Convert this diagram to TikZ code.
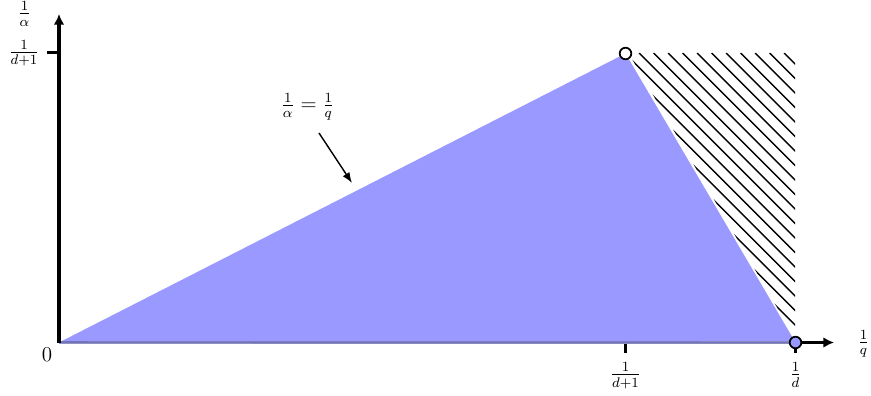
\documentclass[tikz,border=0pt]{standalone}
\usetikzlibrary{arrows.meta}
\definecolor{basecol}{RGB}{115,115,185}
\definecolor{baselight}{RGB}{150,150,200}
\begin{document}
\begin{tikzpicture}[x=0.02cm,y=-0.02cm,font=\fontsize{12}{14}\selectfont,
  axis/.style={line width=1.8pt,-{Latex[length=6pt,width=6pt]}},
  tick/.style={line width=1.9pt},
  hatch/.style={line width=0.8pt},
  pt/.style={circle,draw,line width=1pt,inner sep=0pt,minimum size=6.6pt}]
\useasboundingbox (0,0) rectangle (871,395);
\coordinate (O) at (59,342.5);
\coordinate (P) at (625.5,53.5);
\coordinate (Q) at (795.5,342.5);
\coordinate (Xend) at (834,342.5);
\coordinate (Yend) at (59,14);
% hatched region
\begin{scope}
\clip (628.5,53) -- (795,53) -- (795,338.2) -- cycle;
\foreach \k in {-30,...,12} {
  \draw[hatch] ({639+14.5*\k},53) -- ++(320,320);
}
\end{scope}
% x axis
\draw[axis] (O) -- (Xend);
% filled triangle
\fill[blue!40] (O) -- (P) -- (Q) -- (795.5,341.3) -- (59,341.3) -- cycle;
\draw[baselight,line width=1.9pt] (59,342.5) -- (Q);
\draw[basecol,line width=1.1pt] (59,342.2) -- (Q);
% y axis
\draw[axis] (O) -- (Yend);
% ticks
\coordinate (ty) at (47,52.7);
\draw[tick] (ty) -- (59,52.7);
\coordinate (tx1) at (625.5,353);
\draw[tick] (625.5,343.5) -- (tx1);
\coordinate (tx2) at (795.5,353);
\draw[tick] (Q) -- (tx2);
% points
\node[pt,fill=white] (pP) at (P) {};
\node[pt,fill=blue!40] (pQ) at (Q) {};
% labels
\node (l0) at (47,354.5) {$0$};
\node (lalpha) at (24.5,14) {$\frac{1}{\alpha}$};
\node (ly) at (24,53) {$\frac{1}{d+1}$};
\node (lq) at (863.5,344) {$\frac{1}{q}$};
\node (lx1) at (625.5,375.5) {$\frac{1}{d+1}$};
\node (lx2) at (795.5,375) {$\frac{1}{d}$};
\node (leq) at (307.5,107) {$\frac{1}{\alpha}=\frac{1}{q}$};
\coordinate (astart) at (319,133);
\coordinate (aend) at (352,183);
\draw[line width=0.8pt,-{Latex[length=6pt,width=4.5pt]}] (astart) -- (aend);
\end{tikzpicture}
\end{document}
